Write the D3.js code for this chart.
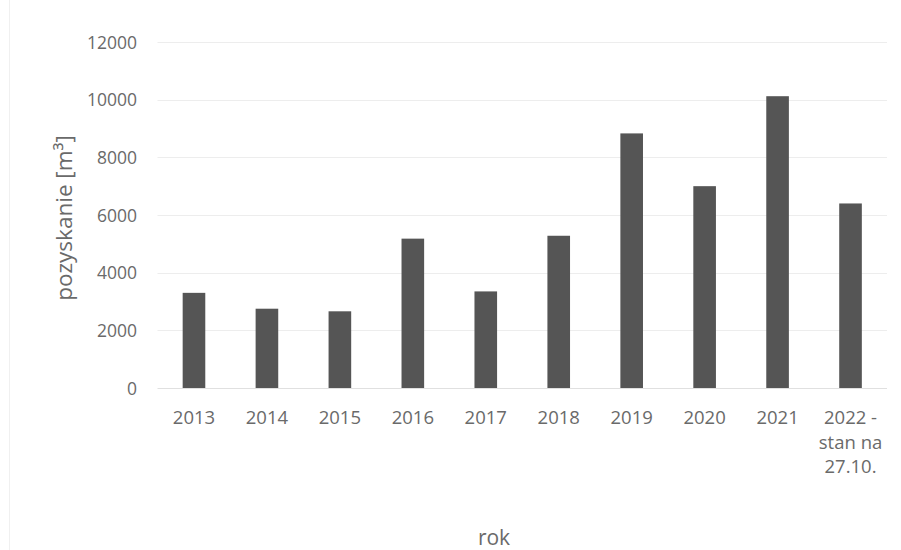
<!DOCTYPE html>
<html>
<head>
<meta charset="utf-8">
<script src="https://cdn.jsdelivr.net/npm/d3@7"></script>
<style>
  html, body { margin: 0; padding: 0; background: #fff; }
  svg { display: block; }
  text { font-family: "Open Sans", "Noto Sans", sans-serif; fill: #6a6a6a; }
</style>
</head>
<body>
<svg id="chart" width="901" height="550"></svg>
<script>
const categories = ["2013", "2014", "2015", "2016", "2017", "2018", "2019", "2020", "2021", "2022"];
const categoryLines = [["2013"], ["2014"], ["2015"], ["2016"], ["2017"], ["2018"], ["2019"], ["2020"], ["2021"], ["2022 -", "stan na", "27.10."]];
const values = [3300, 2750, 2660, 5180, 3350, 5280, 8830, 7000, 10120, 6400];
const yTicks = [0, 2000, 4000, 6000, 8000, 10000, 12000];
const yTitle = "pozyskanie [m³]";
const xTitle = "rok";

const svg = d3.select("#chart");
const W = 901, H = 550;
const plot = { left: 157.5, right: 887, top: 42, bottom: 388 };

svg.append("rect").attr("x", 0).attr("y", 0).attr("width", W).attr("height", H).attr("fill", "#fff");
svg.append("line").attr("x1", 9.5).attr("x2", 9.5).attr("y1", 0).attr("y2", H)
  .attr("stroke", "#f0f0f0").attr("stroke-width", 1);

const x = d3.scaleBand().domain(categories).range([plot.left, plot.right])
  .paddingInner(0.69).paddingOuter(0.345);
const y = d3.scaleLinear().domain([0, 12000]).range([plot.bottom, plot.top]);

// gridlines
svg.append("g").selectAll("line").data(yTicks).join("line")
  .attr("x1", plot.left).attr("x2", plot.right)
  .attr("y1", d => Math.round(y(d)) + 0.5).attr("y2", d => Math.round(y(d)) + 0.5)
  .attr("stroke", d => d === 0 ? "#e0e0e0" : "#ededed").attr("stroke-width", 1);

// y axis labels
const yAxis = d3.axisLeft(y).tickValues(yTicks).tickSize(0).tickPadding(0).tickFormat(d3.format("d"));
const yg = svg.append("g").attr("transform", "translate(137,0)").call(yAxis);
yg.select(".domain").remove();
yg.selectAll("text").attr("font-size", 17.5).attr("fill", "#6a6a6a")
  .style("font-family", "'Open Sans', sans-serif").attr("dy", "0.35em");

// bars
svg.append("g").selectAll("rect").data(values).join("rect")
  .attr("x", (d, i) => x(categories[i]))
  .attr("width", x.bandwidth())
  .attr("y", d => y(d))
  .attr("height", d => y(0) - y(d))
  .attr("fill", "#555555");

// x axis labels
const xAxis = d3.axisBottom(x).tickSize(0).tickPadding(0).tickFormat(() => "");
const xg = svg.append("g").attr("transform", `translate(0,${plot.bottom})`).call(xAxis);
xg.select(".domain").remove();
xg.selectAll(".tick").each(function(d, i) {
  const t = d3.select(this).select("text").text(null)
    .attr("y", 0).attr("dy", null).attr("font-size", 18.5).attr("fill", "#6a6a6a")
    .style("font-family", "'Open Sans', sans-serif").attr("text-anchor", "middle");
  categoryLines[i].forEach((ln, k) => {
    t.append("tspan").attr("x", 0).attr("y", 36 + k * 24.5).text(ln);
  });
});

// axis titles
svg.append("text").attr("x", 494).attr("y", 545).attr("text-anchor", "middle")
  .attr("font-size", 21).text(xTitle);
svg.append("text").attr("transform", "translate(72,218) rotate(-90)")
  .attr("text-anchor", "middle").attr("font-size", 22.5).text(yTitle);
</script>
</body>
</html>
